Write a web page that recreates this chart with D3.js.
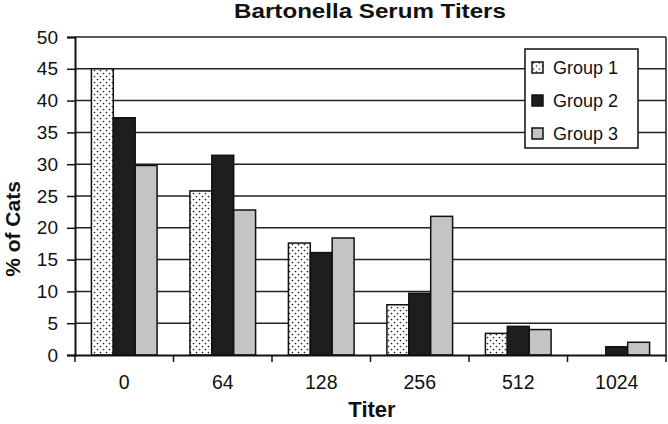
<!DOCTYPE html>
<html>
<head>
<meta charset="utf-8">
<script src="https://cdn.jsdelivr.net/npm/d3@7"></script>
<style>
  body { margin: 0; background: #fff; }
  text { font-family: "Liberation Sans", Arial, sans-serif; fill: #111; }
</style>
</head>
<body>
<div id="chart"></div>
<script>
// data
var titers = ["0", "64", "128", "256", "512", "1024"];
var groups = ["Group 1", "Group 2", "Group 3"];
var group1 = [45, 25.8, 17.6, 7.9, 3.4, 0];
var group2 = [37.3, 31.4, 16.1, 9.7, 4.5, 1.3];
var group3 = [29.8, 22.8, 18.4, 21.8, 4.0, 2.0];
var yTicks = [0, 5, 10, 15, 20, 25, 30, 35, 40, 45, 50];

var width = 668, height = 424;
var margin = {top: 37, right: 2, bottom: 69, left: 75};

var svg = d3.select("#chart").append("svg")
    .attr("width", width)
    .attr("height", height);

var defs = svg.append("defs");
var pat = defs.append("pattern")
    .attr("id", "dots")
    .attr("patternUnits", "userSpaceOnUse")
    .attr("width", 6).attr("height", 6);
pat.append("rect").attr("width", 6).attr("height", 6).attr("fill", "#fff");
pat.append("circle").attr("cx", 1.5).attr("cy", 1.5).attr("r", 0.85).attr("fill", "#222");
pat.append("circle").attr("cx", 4.5).attr("cy", 4.5).attr("r", 0.85).attr("fill", "#222");

var fills = ["url(#dots)", "#1e1e1e", "#c3c4c6"];

var x = d3.scaleBand().domain(titers)
    .range([margin.left, width - margin.right]);
var x1 = d3.scaleBand().domain(d3.range(3))
    .range([0, x.bandwidth()])
    .paddingInner(0).paddingOuter(0.75);
var y = d3.scaleLinear().domain([0, 50])
    .range([height - margin.bottom, margin.top]);

var series = [group1, group2, group3];

// gridlines
svg.append("g").selectAll("line")
    .data(yTicks.slice(1))
    .enter().append("line")
    .attr("x1", margin.left).attr("x2", width - margin.right)
    .attr("y1", function(d) { return y(d); })
    .attr("y2", function(d) { return y(d); })
    .attr("stroke", "#222").attr("stroke-width", 1.5);

// right border
svg.append("line")
    .attr("x1", width - margin.right).attr("x2", width - margin.right)
    .attr("y1", y(50)).attr("y2", y(0))
    .attr("stroke", "#222").attr("stroke-width", 1.5);

// bars
var gBars = svg.append("g");
titers.forEach(function(t, i) {
  series.forEach(function(s, k) {
    if (s[i] <= 0) return;
    gBars.append("rect")
      .attr("x", x(t) + x1(k))
      .attr("y", y(s[i]))
      .attr("width", x1.bandwidth())
      .attr("height", y(0) - y(s[i]))
      .attr("fill", fills[k])
      .attr("stroke", "#111")
      .attr("stroke-width", 1.5);
  });
});

// y axis
var yAxis = svg.append("g")
    .attr("transform", "translate(" + margin.left + ",0)")
    .call(d3.axisLeft(y).tickValues(yTicks).tickSize(8).tickPadding(9));
yAxis.select(".domain").attr("stroke", "#111").attr("stroke-width", 2);
yAxis.selectAll(".tick line").attr("stroke", "#111").attr("stroke-width", 1.5);
yAxis.selectAll("text").style("font-size", "19px").attr("fill", "#111");

// x axis
var xAxis = svg.append("g")
    .attr("transform", "translate(0," + y(0) + ")")
    .call(d3.axisBottom(x).tickSize(0).tickPadding(20));
xAxis.select(".domain").attr("stroke", "#111").attr("stroke-width", 2);
xAxis.selectAll("text").style("font-size", "19.5px").attr("fill", "#111")
    .attr("dy", null).attr("y", 34);
xAxis.selectAll("line.sep")
    .data(titers.concat(["end"]))
    .enter().append("line")
    .attr("class", "sep")
    .attr("x1", function(d, i) { return margin.left + i * x.step(); })
    .attr("x2", function(d, i) { return margin.left + i * x.step(); })
    .attr("y1", 0).attr("y2", 7)
    .attr("stroke", "#111").attr("stroke-width", 1.5);

// title & axis labels
svg.append("text")
    .attr("transform", "translate(370,18) scale(1.15,1)")
    .attr("text-anchor", "middle")
    .style("font-size", "21px").style("font-weight", "bold")
    .text("Bartonella Serum Titers");

svg.append("text")
    .attr("x", 372).attr("y", 417)
    .attr("text-anchor", "middle")
    .style("font-size", "22px").style("font-weight", "bold")
    .text("Titer");

svg.append("text")
    .attr("transform", "translate(20,229) rotate(-90)")
    .attr("text-anchor", "middle")
    .style("font-size", "21px").style("font-weight", "bold")
    .text("% of Cats");

// legend
var lg = svg.append("g").attr("transform", "translate(525,49)");
lg.append("rect")
    .attr("width", 113).attr("height", 99)
    .attr("fill", "#fff").attr("stroke", "#111").attr("stroke-width", 1.5);
groups.forEach(function(g, k) {
  var row = lg.append("g").attr("transform", "translate(7," + (18.5 + k * 33) + ")");
  row.append("rect")
    .attr("x", 0).attr("y", -5.5).attr("width", 11).attr("height", 11)
    .attr("fill", fills[k]).attr("stroke", "#111").attr("stroke-width", 1.5);
  row.append("text")
    .attr("x", 21).attr("y", 6)
    .style("font-size", "18px")
    .text(g);
});
</script>
</body>
</html>
